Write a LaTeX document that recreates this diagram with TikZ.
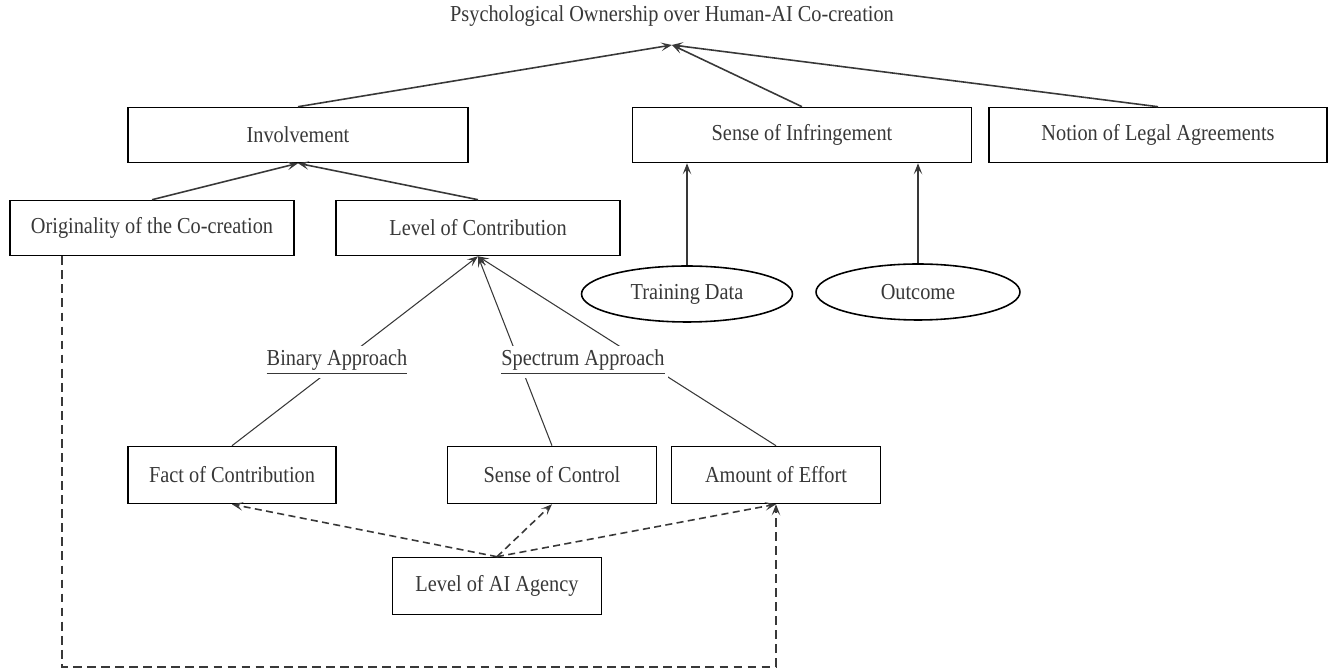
\documentclass[tikz,border=0pt]{standalone}
\usepackage{fontspec}
\setmainfont[FakeStretch=0.89]{Liberation Serif}
\usepackage{xcolor}
\usepackage{tikz}
\usetikzlibrary{arrows.meta}
\usetikzlibrary{shapes}
\usetikzlibrary{calc}
\definecolor{inkgray}{HTML}{383838}

\begin{document}
\begin{tikzpicture}[x=0.02cm,y=-0.02cm,font=\fontsize{13}{15}\selectfont,
    >={Stealth[length=2.2mm,width=1.7mm,inset=1mm]}]
    \useasboundingbox (0,0) rectangle (1330,671);
    \node[text=inkgray] (title) at (672,16) {Psychological Ownership over Human-AI Co-creation};
    \coordinate (apex) at (672,45);
    \coordinate (loop) at (62,667);
    \begin{scope}[every node/.style={rectangle,draw=black,line width=0.9pt,text=inkgray,inner sep=0pt,minimum height=1.1cm}]
    \node[minimum width=6.8cm] (inv) at (298,135) {Involvement};
    \node[minimum width=6.78cm] (soi) at (802,135) {Sense of Infringement};
    \node[minimum width=6.76cm] (nla) at (1158,135) {Notion of Legal Agreements};
    \node[minimum width=5.68cm] (orig) at (152,228) {Originality of the Co-creation};
    \node[minimum width=5.68cm] (loc) at (478,228) {Level of Contribution};
    \node[minimum width=4.16cm,minimum height=1.14cm] (fact) at (232,475) {Fact of Contribution};
    \node[minimum width=4.18cm,minimum height=1.14cm] (soc) at (552,475) {Sense of Control};
    \node[minimum width=4.18cm,minimum height=1.14cm] (amount) at (776,475) {Amount of Effort};
    \node[minimum width=4.18cm,minimum height=1.14cm] (agency) at (497,586) {Level of AI Agency};
    \end{scope}
    \begin{scope}[every node/.style={ellipse,draw=black,line width=0.9pt,text=inkgray,inner sep=0pt,minimum width=4.22cm,minimum height=1.12cm}]
    \node (td) at (687,294) {Training Data};
    \node[minimum width=4.08cm] (oc) at (918,292) {Outcome};
    \end{scope}
    \begin{scope}[every edge/.style={draw=inkgray,line width=0.9pt,->}]
    \path (inv.north) edge (apex);
    \path (soi.north) edge (apex);
    \path (nla.north) edge (apex);
    \path (orig.north) edge (inv.south);
    \path (loc.north) edge (inv.south);
    \end{scope}
    \begin{scope}[every edge/.style={draw=inkgray,line width=0.6pt,->}]
    \path (td.north) edge (td.north |- soi.south);
    \path (oc.north) edge (oc.north |- soi.south);
    \path (fact.north) edge (loc.south);
    \path (soc.north) edge (loc.south);
    \path (amount.north) edge (loc.south);
    \end{scope}
    \begin{scope}[every edge/.style={draw=inkgray,line width=0.9pt,dash pattern=on 4pt off 2.5pt,->}]
    \path (agency.north) edge (fact.south);
    \path (agency.north) edge (soc.south);
    \path (agency.north) edge (amount.south);
    \end{scope}
    \draw[inkgray,line width=0.9pt,dash pattern=on 5pt off 3pt,->] (orig.south -| loop) -- (loop) -| (amount.south);
    \begin{scope}[every node/.style={fill=white,text=inkgray,inner sep=2pt}]
    \node (binary) at (337,362) {\underline{Binary Approach}};
    \node (spectrum) at (583,362) {\underline{Spectrum Approach}};
    \end{scope}
\end{tikzpicture}
\end{document}
